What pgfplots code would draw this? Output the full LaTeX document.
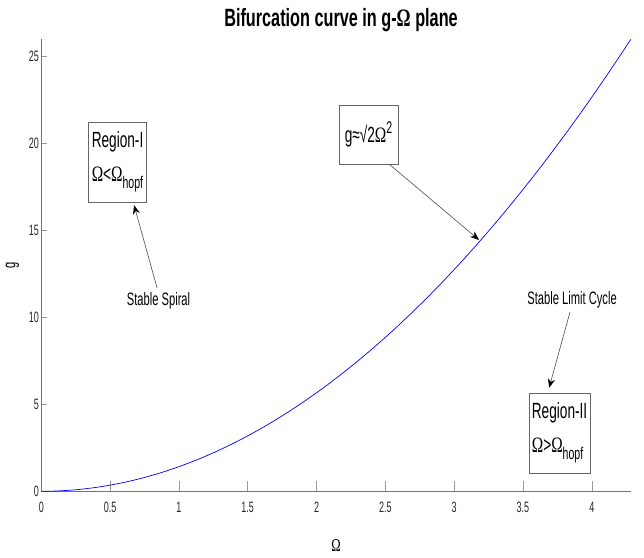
\documentclass[border=0pt]{standalone}
\usepackage{fontspec}
\setmainfont{Liberation Sans}[FakeStretch=0.62]
\newfontfamily\titlef{Liberation Sans}[FakeStretch=0.65]
\newfontfamily\tickf{Liberation Sans}[FakeStretch=0.6]
\newfontfamily\symf{Liberation Serif}[FakeStretch=0.7]
\usepackage{pgfplots}
\pgfplotsset{compat=1.18}
\usetikzlibrary{arrows.meta}
\newcommand{\Om}{{\symf Ω}}
\newcommand{\sub}[1]{\raisebox{-7pt}{\fontsize{17}{17}\selectfont #1}}
\begin{document}
\begin{tikzpicture}
\path[use as bounding box] (-41.3pt,-65.7pt) rectangle (602.7pt,491.3pt);
\begin{axis}[
  at={(0pt,0pt)}, anchor=south west,
  scale only axis, width=589.4pt, height=452pt,
  xmin=0, xmax=4.283, ymin=0, ymax=25.95,
  axis x line*=bottom, axis y line*=left,
  axis line style={black!55, line width=0.6pt},
  tick align=inside,
  xtick={0,0.5,...,4}, ytick={0,5,...,25},
  xticklabels={0,0.5,1,1.5,2,2.5,3,3.5,4},
  xtick style={black!40, line width=0.5pt, /pgfplots/major tick length=10pt},
  ytick style={black!40, line width=0.5pt, /pgfplots/major tick length=6pt},
  ticklabel style={font=\tickf\fontsize{15}{15}\selectfont, text=black!85},
  xticklabel style={yshift=-7pt},
  yticklabel style={xshift=1pt},
  /pgf/number format/assume math mode=true,
  xlabel={\fontsize{18}{18}\selectfont\Om},
  xlabel style={at={(axis description cs:0.5,-0.12)}, anchor=center},
  ylabel={\fontsize{18}{18}\selectfont g},
  ylabel style={at={(axis description cs:-0.049,0.5)}, anchor=center},
  title={\titlef\bfseries\fontsize{25}{25}\selectfont Bifurcation curve in g-\Om\ plane},
  title style={at={(axis description cs:0.5,1.03)}, anchor=center, xshift=5pt},
  clip=false,
]
\addplot[color={rgb,255:red,0;green,0;blue,255}, line width=0.7pt, smooth] coordinates {
(0,0) (0.1,0.01414) (0.2,0.05657) (0.3,0.12728) (0.4,0.22627) (0.5,0.35355)
(0.6,0.50912) (0.7,0.69296) (0.8,0.90510) (0.9,1.14551) (1.0,1.41421)
(1.1,1.71120) (1.2,2.03647) (1.3,2.39002) (1.4,2.77186) (1.5,3.18198)
(1.6,3.62039) (1.7,4.08708) (1.8,4.58205) (1.9,5.10531) (2.0,5.65685)
(2.1,6.23668) (2.2,6.84479) (2.3,7.48119) (2.4,8.14587) (2.5,8.83883)
(2.6,9.56008) (2.7,10.30962) (2.8,11.08743) (2.9,11.89354) (3.0,12.72792)
(3.1,13.59059) (3.2,14.48155) (3.3,15.40079) (3.4,16.34831) (3.5,17.32412)
(3.6,18.32821) (3.7,19.36058) (3.8,20.42125) (3.9,21.51019) (4.0,22.62742)
(4.1,23.77293) (4.2,24.94673) (4.283,25.9427)
};
% boxes
\node[draw=black!60, line width=0.6pt, fill=white, minimum width=55pt, minimum height=80pt,
  align=left, inner xsep=3pt, font=\fontsize{22}{34}\selectfont]
  at (axis cs:0.554,18.91) {\mbox{Region-I}\\\Om<\Om\sub{hopf}};
\node[draw=black!60, line width=0.6pt, fill=white, minimum width=59pt, minimum height=59pt,
  align=left, inner xsep=3pt, font=\fontsize{22}{24}\selectfont]
  at (axis cs:2.378,20.48) {g≈√2\Om\raisebox{9pt}{\fontsize{17}{17}\selectfont 2}};
\node[draw=black!60, line width=0.6pt, fill=white, minimum width=61pt, minimum height=80pt,
  align=left, inner xsep=3pt, font=\fontsize{22}{34}\selectfont]
  at (axis cs:3.766,3.35) {\mbox{Region-II}\\\Om>\Om\sub{hopf}};
% labels
\node[font=\fontsize{18}{18}\selectfont] at (axis cs:0.852,10.92) {Stable Spiral};
\node[font=\fontsize{18}{18}\selectfont] at (axis cs:3.857,10.99) {Stable Limit Cycle};
% arrows
\draw[black!70, line width=0.6pt, -{Stealth[length=9pt,width=7pt,color=black]}]
  (axis cs:0.841,11.68) -- (axis cs:0.674,16.43);
\draw[black!70, line width=0.6pt, -{Stealth[length=9pt,width=7pt,color=black]}]
  (axis cs:2.534,18.74) -- (axis cs:3.181,14.43);
\draw[black!70, line width=0.6pt, -{Stealth[length=9pt,width=7pt,color=black]}]
  (axis cs:3.842,10.30) -- (axis cs:3.690,5.94);
\end{axis}
\end{tikzpicture}
\end{document}
